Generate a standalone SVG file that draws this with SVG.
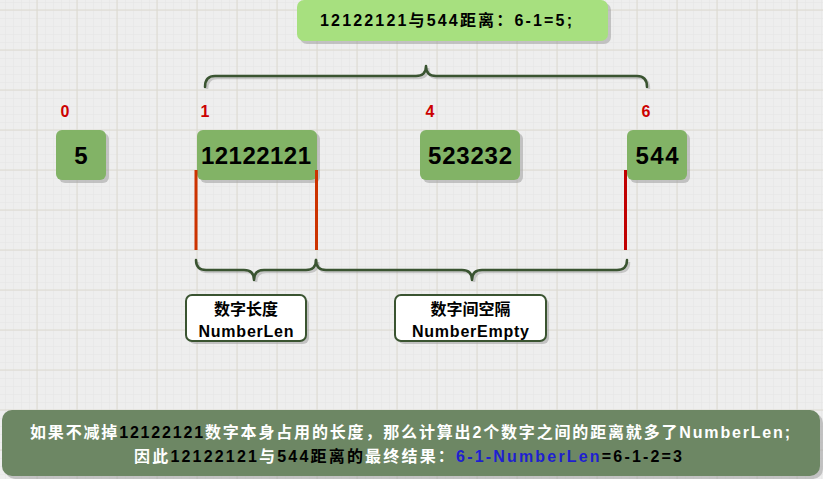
<svg xmlns="http://www.w3.org/2000/svg" width="823" height="479" viewBox="0 0 823 479">
<defs>
<pattern id="minor" width="8" height="8" patternUnits="userSpaceOnUse" x="37" y="10">
<path d="M0,0 H8 M0,0 V8" stroke="#e4e4e4" stroke-width="1" fill="none"/>
</pattern>
<pattern id="major" width="40" height="40" patternUnits="userSpaceOnUse" x="36.5" y="9.5">
<path d="M0,0.5 H40 M0.5,0 V40" stroke="#dcd9cf" stroke-width="1" fill="none"/>
</pattern>
</defs>
<style>
.t{font-family:"Liberation Sans","Noto Sans CJK SC",sans-serif;font-weight:bold;}
.node rect.b{fill:#82b366;}
.sh{fill:#9e9e9e;opacity:0.55;}
.num{font-size:24px;fill:#000;text-anchor:middle;}
.idx{font-size:16px;fill:#cc0000;text-anchor:middle;}
.brace{fill:none;stroke:#3a5431;stroke-width:2.5;stroke-linejoin:round;stroke-linecap:round;}
.braceSh{fill:none;stroke:#9e9e9e;stroke-width:2.5;opacity:0.5;}
.lbl{font-size:16px;fill:#000;text-anchor:middle;}
.w{fill:#ffffff;}
.k{fill:#000000;}
.bl{fill:#1f1fd0;}
</style>
<rect width="823" height="479" fill="#eeeeee"/>
<rect width="823" height="479" fill="url(#minor)"/>
<rect width="823" height="479" fill="url(#major)"/>

<g id="title">
<rect class="sh" x="300" y="3" width="311" height="41" rx="7"/>
<rect x="297" y="0" width="311" height="41" rx="7" fill="#a7e07f"/>
<text class="t" x="446" y="26" font-size="16" text-anchor="middle" textLength="252" lengthAdjust="spacing">12122121与544距离：6-1=5;</text>
</g>

<g id="idx0"><text class="t idx" x="65" y="117">0</text></g>
<g id="idx1"><text class="t idx" x="205" y="117">1</text></g>
<g id="idx4"><text class="t idx" x="430" y="117">4</text></g>
<g id="idx6"><text class="t idx" x="646" y="117">6</text></g>

<g id="node5" class="node">
<rect class="sh" x="59" y="133" width="50" height="50" rx="6"/>
<rect class="b" x="56" y="130" width="50" height="50" rx="6"/>
<text class="t num" x="81" y="164">5</text>
</g>
<g id="node12122121" class="node">
<rect class="sh" x="200" y="133" width="120" height="50" rx="6"/>
<rect class="b" x="197" y="130" width="120" height="50" rx="6"/>
<text class="t num" x="256" y="164" textLength="110" lengthAdjust="spacing">12122121</text>
</g>
<g id="node523232" class="node">
<rect class="sh" x="423" y="133" width="100" height="50" rx="6"/>
<rect class="b" x="420" y="130" width="100" height="50" rx="6"/>
<text class="t num" x="470" y="164" textLength="84" lengthAdjust="spacing">523232</text>
</g>
<g id="node544" class="node">
<rect class="sh" x="630" y="133" width="60" height="50" rx="6"/>
<rect class="b" x="627" y="130" width="60" height="50" rx="6"/>
<text class="t num" x="657" y="164" textLength="43" lengthAdjust="spacing">544</text>
</g>

<g id="connectors">
<line x1="196" y1="170" x2="196" y2="250" stroke="#cc3300" stroke-width="3"/>
<line x1="316.5" y1="170" x2="316.5" y2="250" stroke="#cc3300" stroke-width="3"/>
<line x1="625.5" y1="170" x2="625.5" y2="250" stroke="#c00000" stroke-width="3"/>
<path class="braceSh" transform="translate(2,2)" d="M205,87 Q205,76 215,76 L416,76 Q426,76 426,66 Q426,76 436,76 L637,76 Q647,76 647,87"/>
<path class="brace" d="M205,87 Q205,76 215,76 L416,76 Q426,76 426,66 Q426,76 436,76 L637,76 Q647,76 647,87"/>
<path class="braceSh" transform="translate(2,2)" d="M196,260 Q196,270 206,270 L244,270 Q254,270 254,280 Q254,270 264,270 L306,270 Q316,270 316,260"/>
<path class="brace" d="M196,260 Q196,270 206,270 L244,270 Q254,270 254,280 Q254,270 264,270 L306,270 Q316,270 316,260"/>
<path class="braceSh" transform="translate(2,2)" d="M316,260 Q316,270 326,270 L462,270 Q472,270 472,280 Q472,270 482,270 L617,270 Q627,270 627,260"/>
<path class="brace" d="M316,260 Q316,270 326,270 L462,270 Q472,270 472,280 Q472,270 482,270 L617,270 Q627,270 627,260"/>
</g>

<g id="labelLen">
<rect class="sh" x="189" y="298" width="120" height="46" rx="6"/>
<rect x="186" y="295" width="120" height="46" rx="6" fill="#ffffff" stroke="#3a5431" stroke-width="2"/>
<text class="t lbl" x="246" y="315" font-size="17">数字长度</text>
<text class="t lbl" x="246" y="337" textLength="95" lengthAdjust="spacing">NumberLen</text>
</g>
<g id="labelEmpty">
<rect class="sh" x="398" y="298" width="151" height="46" rx="6"/>
<rect x="395" y="295" width="151" height="46" rx="6" fill="#ffffff" stroke="#3a5431" stroke-width="2"/>
<text class="t lbl" x="470.5" y="315" font-size="17">数字间空隔</text>
<text class="t lbl" x="470.5" y="337" textLength="117" lengthAdjust="spacing">NumberEmpty</text>
</g>

<g id="note">
<rect class="sh" x="5" y="413" width="818" height="66" rx="10"/>
<rect x="2" y="410" width="818" height="66" rx="10" fill="#6d8764"/>
<text class="t" x="410" y="438" font-size="16" text-anchor="middle" textLength="760" lengthAdjust="spacing"><tspan class="w">如果不减掉</tspan><tspan class="k">12122121</tspan><tspan class="w">数字本身占用的长度，那么计算出2个数字之间的距离就多了NumberLen;</tspan></text>
<text class="t" x="408" y="462" font-size="16" text-anchor="middle" textLength="548" lengthAdjust="spacing"><tspan class="w">因此</tspan><tspan class="k">12122121</tspan><tspan class="w">与</tspan><tspan class="k">544距离的</tspan><tspan class="w">最终结果：</tspan><tspan class="bl">6-1-NumberLen</tspan><tspan class="k">=6-1-2=3</tspan></text>
</g>
</svg>
